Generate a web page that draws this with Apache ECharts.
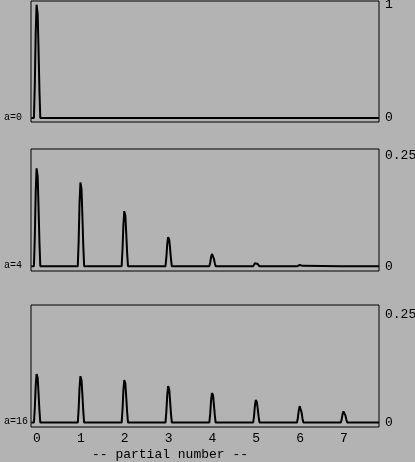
<!DOCTYPE html>
<html>
<head>
<meta charset="utf-8">
<script src="https://cdn.jsdelivr.net/npm/echarts@6/dist/echarts.min.js"></script>
<style>
  html, body { margin: 0; padding: 0; background: #b3b3b3; }
  #chartMain { width: 415px; height: 462px; }
</style>
</head>
<body>
<div id="chartMain"></div>
<script>
// 横轴: partial number (每个峰取 8 个点)
var partialX = [-0.13,
  -0.07, -0.05, -0.03, -0.01, 0.015, 0.035, 0.055, 0.075,
  0.93, 0.95, 0.97, 0.99, 1.015, 1.035, 1.055, 1.075,
  1.93, 1.95, 1.97, 1.99, 2.015, 2.035, 2.055, 2.075,
  2.93, 2.95, 2.97, 2.99, 3.015, 3.035, 3.055, 3.075,
  3.93, 3.95, 3.97, 3.99, 4.015, 4.035, 4.055, 4.075,
  4.93, 4.95, 4.97, 4.99, 5.015, 5.035, 5.055, 5.075,
  5.93, 5.95, 5.97, 5.99, 6.015, 6.035, 6.055, 6.075,
  6.93, 6.95, 6.97, 6.99, 7.015, 7.035, 7.055, 7.075,
  7.8];

// a=0
var ampA0 = [0,
  0, 0.3, 0.75, 1.0, 0.92, 0.6, 0.25, 0,
  0, 0, 0, 0, 0, 0, 0, 0,
  0, 0, 0, 0, 0, 0, 0, 0,
  0, 0, 0, 0, 0, 0, 0, 0,
  0, 0, 0, 0, 0, 0, 0, 0,
  0, 0, 0, 0, 0, 0, 0, 0,
  0, 0, 0, 0, 0, 0, 0, 0,
  0, 0, 0, 0, 0, 0, 0, 0,
  0];

// a=4
var ampA4 = [0,
  0, 0.067, 0.167, 0.222, 0.204, 0.133, 0.056, 0,
  0, 0.057, 0.143, 0.19, 0.175, 0.114, 0.048, 0,
  0, 0.038, 0.094, 0.125, 0.115, 0.075, 0.031, 0,
  0, 0.02, 0.05, 0.066, 0.061, 0.04, 0.017, 0,
  0, 0.008, 0.021, 0.028, 0.026, 0.017, 0.007, 0,
  0, 0.003, 0.007, 0.009, 0.008, 0.005, 0.002, 0,
  0, 0.001, 0.002, 0.003, 0.003, 0.002, 0.001, 0,
  0, 0, 0, 0, 0, 0, 0, 0,
  0];

// a=16
var ampA16 = [0,
  0, 0.034, 0.084, 0.112, 0.103, 0.067, 0.028, 0,
  0, 0.032, 0.08, 0.107, 0.098, 0.064, 0.027, 0,
  0, 0.029, 0.074, 0.098, 0.09, 0.059, 0.025, 0,
  0, 0.025, 0.063, 0.084, 0.077, 0.05, 0.021, 0,
  0, 0.02, 0.051, 0.068, 0.063, 0.041, 0.017, 0,
  0, 0.015, 0.039, 0.052, 0.047, 0.031, 0.013, 0,
  0, 0.011, 0.028, 0.038, 0.035, 0.023, 0.009, 0,
  0, 0.008, 0.02, 0.026, 0.024, 0.016, 0.007, 0,
  0];

var xTicks = [0, 1, 2, 3, 4, 5, 6, 7];
var panelNames = ['a=0', 'a=4', 'a=16'];
var yTicks = [[0, 1], [0, 0.25], [0, 0.25]];
var xName = '-- partial number --';

var font = 'Liberation Mono';
var myChart = echarts.init(document.getElementById('chartMain'));

function pairs(ys) {
  return partialX.map(function (x, i) { return [x, ys[i]]; });
}

// 三个面板的位置
var grids = [
  { left: 31, width: 348, top: 1, height: 121 },
  { left: 31, width: 348, top: 149, height: 122 },
  { left: 31, width: 348, top: 305, height: 122 }
];
var yRange = [[-0.035, 1.033], [-0.0107, 0.266], [-0.0102, 0.271]];
var labelY = [118, 266, 422];

var option = {
  backgroundColor: '#b3b3b3',
  animation: false,
  grid: grids.map(function (g) {
    return Object.assign({
      show: true, borderColor: '#000', borderWidth: 1,
      backgroundColor: 'transparent', outerBoundsMode: 'none'
    }, g);
  }),
  xAxis: grids.map(function (g, i) {
    return {
      type: 'value', gridIndex: i, min: -0.137, max: 7.8,
      axisLine: { show: false }, axisTick: { show: false }, splitLine: { show: false },
      axisLabel: {
        show: i === 2, customValues: xTicks, margin: 5,
        color: '#000', fontFamily: font, fontSize: 13
      }
    };
  }),
  yAxis: grids.map(function (g, i) {
    return {
      type: 'value', gridIndex: i, position: 'right',
      min: yRange[i][0], max: yRange[i][1],
      axisLine: { show: false }, axisTick: { show: false }, splitLine: { show: false },
      axisLabel: {
        customValues: yTicks[i], margin: 6,
        color: '#000', fontFamily: font, fontSize: 13
      }
    };
  }),
  series: [ampA0, ampA4, ampA16].map(function (ys, i) {
    return {
      type: 'line', xAxisIndex: i, yAxisIndex: i,
      data: pairs(ys), showSymbol: false, symbol: 'none',
      lineStyle: { color: '#000', width: 2 }
    };
  }),
  graphic: panelNames.map(function (name, i) {
    return {
      type: 'text', left: 4, top: labelY[i] - 6,
      style: { text: name, fill: '#000', font: '10px ' + font }
    };
  }).concat([{
    type: 'text', left: 92, top: 448,
    style: { text: xName, fill: '#000', font: '13px ' + font }
  }])
};

myChart.setOption(option);
</script>
</body>
</html>
